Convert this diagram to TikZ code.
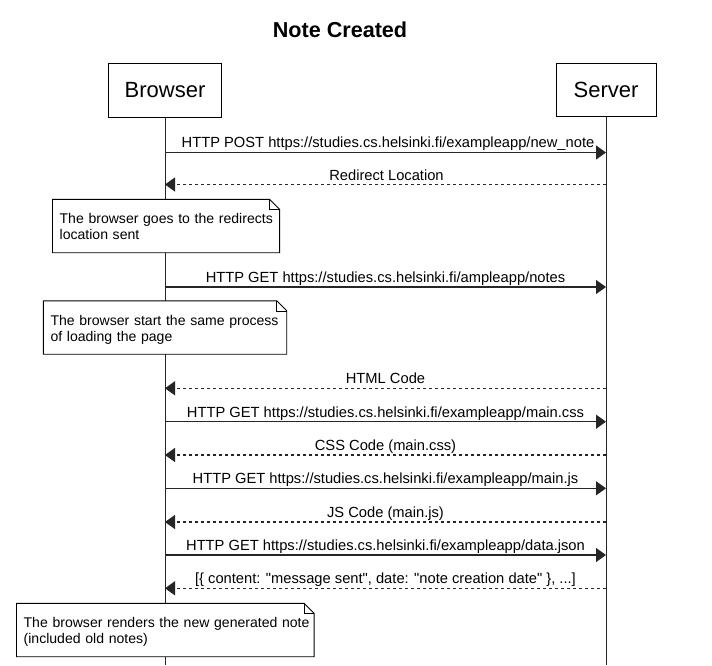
\documentclass[tikz,border=0pt]{standalone}
\usepackage{fontspec}
\setmainfont[Ligatures={TeXOff,NoCommon}]{Liberation Sans}
\usetikzlibrary{arrows.meta}
\newcommand\notedraw[1]{%
  \draw[line width=0.9pt] (#1.north west) -- ([xshift=-10pt]#1.north east) -- ([yshift=-10pt]#1.north east) -- (#1.south east) -- (#1.south west) -- cycle;
  \draw[line width=0.6pt] ([xshift=-10pt]#1.north east) -- ([xshift=-10pt,yshift=-10pt]#1.north east) -- ([yshift=-10pt]#1.north east);}
\begin{document}
\begin{tikzpicture}[x=1pt,y=-1pt,
  actor/.style={draw=black, line width=1pt, fill=white, font=\fontsize{22}{26}\selectfont, inner sep=0pt},
  life/.style={draw=black!85, line width=0.9pt},
  req/.style={draw=black!85, line width=1.2pt, -{Triangle[length=10pt,width=14pt]}},
  resp/.style={req, dash pattern=on 3pt off 3pt},
  msglabel/.style={font=\fontsize{14.7}{17}\selectfont, anchor=base, inner sep=0pt},
  notebox/.style={fill=white, inner xsep=7pt, inner ysep=6pt, text height=18pt, text depth=23pt, align=left, font=\fontsize{14.05}{16}\selectfont}
]
\useasboundingbox (0,0) rectangle (712,665);
\fill[white] (0,0) rectangle (712,665);

\node[font=\bfseries\fontsize{21.6}{25}\selectfont, anchor=base] (title) at (340,37) {Note Created};

\node[actor, minimum width=113pt, minimum height=54pt] (browser) at (165,90) {Browser};
\node[actor, minimum width=100pt, minimum height=53pt] (server) at (606,89.5) {Server};
\coordinate (bend) at (165,665);
\coordinate (send) at (606,665);
\draw[life] (browser.south) -- (bend);
\draw[life] (server.south) -- (send);

% messages
\coordinate (b1) at (165,152.5); \coordinate (s1) at (606,152.5);
\draw[req] (b1) -- (s1);
\node[msglabel] (l1) at (388,147.5) {HTTP POST https://studies.cs.helsinki.fi/exampleapp/new\_note};

\coordinate (b2) at (165,184.5); \coordinate (s2) at (606,184.5);
\draw[resp] (s2) -- (b2);
\node[msglabel] (l2) at (386.5,180) {Redirect Location};

\node[notebox, text width=212.7pt] (n1) at (166,226) {\mbox{The browser goes to the redirects}\\\mbox{location sent}};
\notedraw{n1}

\coordinate (b3) at (165,287); \coordinate (s3) at (606,287);
\draw[req] (b3) -- (s3);
\node[msglabel] (l3) at (385.5,282.5) {HTTP GET https://studies.cs.helsinki.fi/ampleapp/notes};

\node[notebox, text width=229pt] (n2) at (165,327.5) {\mbox{The browser start the same process}\\\mbox{of loading the page}};
\notedraw{n2}

\coordinate (b4) at (165,388.3); \coordinate (s4) at (606,388.3);
\draw[resp] (s4) -- (b4);
\node[msglabel] (l4) at (385.5,383.8) {HTML Code};

\coordinate (b5) at (165,421.7); \coordinate (s5) at (606,421.7);
\draw[req] (b5) -- (s5);
\node[msglabel] (l5) at (385.5,417.2) {HTTP GET https://studies.cs.helsinki.fi/exampleapp/main.css};

\coordinate (b6) at (165,455); \coordinate (s6) at (606,455);
\draw[resp] (s6) -- (b6);
\node[msglabel] (l6) at (385.5,450.5) {CSS Code (main.css)};

\coordinate (b7) at (165,488.3); \coordinate (s7) at (606,488.3);
\draw[req] (b7) -- (s7);
\node[msglabel] (l7) at (385.5,483.8) {HTTP GET https://studies.cs.helsinki.fi/exampleapp/main.js};

\coordinate (b8) at (165,522); \coordinate (s8) at (606,522);
\draw[resp] (s8) -- (b8);
\node[msglabel] (l8) at (385.5,517.5) {JS Code (main.js)};

\coordinate (b9) at (165,555); \coordinate (s9) at (606,555);
\draw[req] (b9) -- (s9);
\node[msglabel] (l9) at (385.5,550.5) {HTTP GET https://studies.cs.helsinki.fi/exampleapp/data.json};

\coordinate (b10) at (165,588.3); \coordinate (s10) at (606,588.3);
\draw[resp] (s10) -- (b10);
\node[msglabel] (l10) at (385.5,583.8) {[\{ content: "message sent", date: "note creation date" \}, ...]};

\node[notebox, text width=283.3pt] (n3) at (165.3,630) {\mbox{The browser renders the new generated note}\\\mbox{(included old notes)}};
\notedraw{n3}
\end{tikzpicture}
\end{document}
